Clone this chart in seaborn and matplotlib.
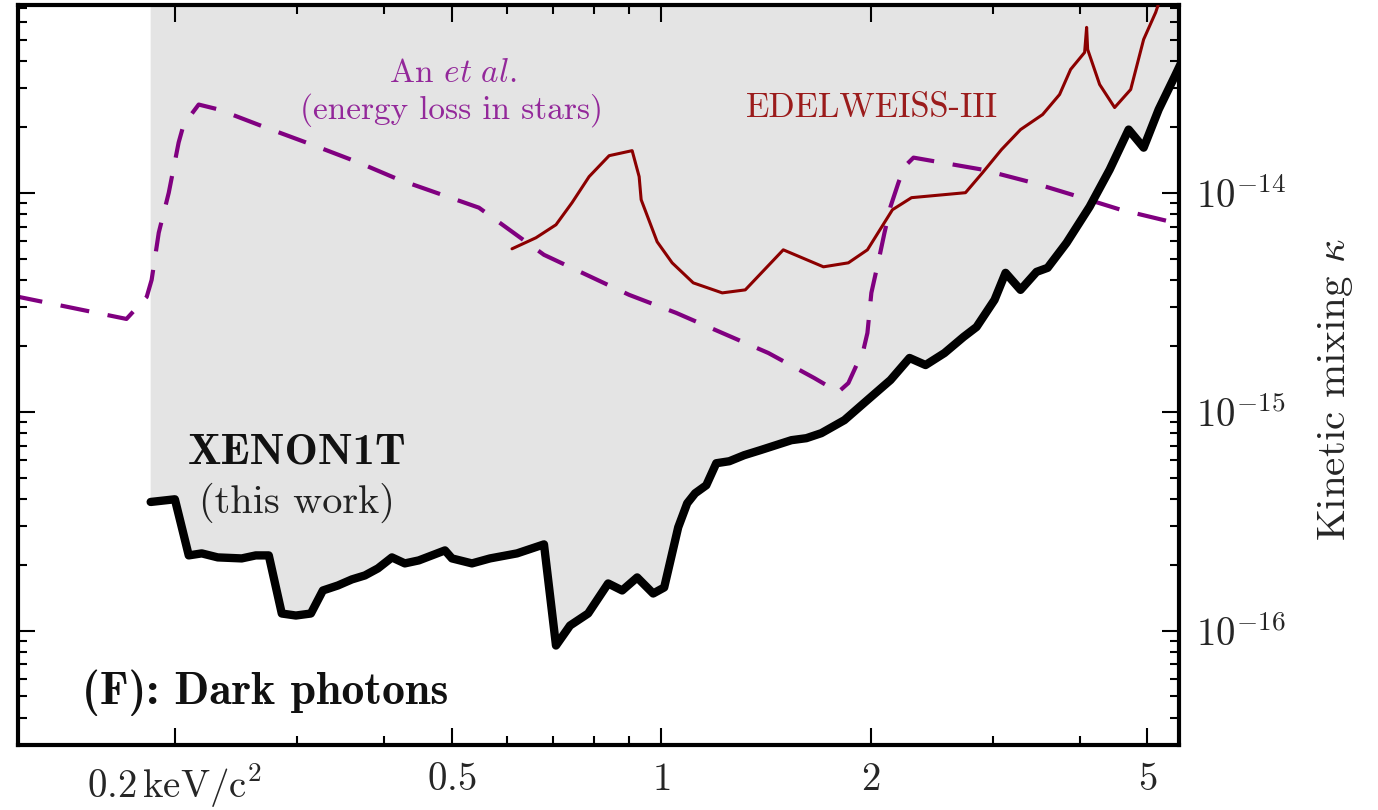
import os
import numpy as np
import pandas as pd
import matplotlib
matplotlib.use("Agg")
import matplotlib.pyplot as plt
from matplotlib.font_manager import FontProperties
from matplotlib.ticker import FixedLocator, LogLocator, NullFormatter
import seaborn as sns

# ---------------- data ----------------
xenon_mass = [0.1846, 0.200, 0.2094, 0.2186, 0.2305, 0.2495, 0.2614, 0.2729, 0.2849, 0.2985,
              0.3137, 0.3264, 0.3430, 0.3593, 0.3751, 0.3916, 0.4102, 0.4281, 0.4484, 0.4682,
              0.4889, 0.5004, 0.5346, 0.5675, 0.6206, 0.6785, 0.7060, 0.7396, 0.7852, 0.8390,
              0.8789, 0.9236, 0.9739, 1.010, 1.058, 1.090, 1.119, 1.161, 1.200, 1.253,
              1.316, 1.388, 1.539, 1.617, 1.699, 1.834, 1.979, 2.136, 2.275, 2.399,
              2.554, 2.720, 2.840, 3.014, 3.126, 3.285, 3.464, 3.593, 3.826, 4.129,
              4.412, 4.698, 4.937, 5.189, 5.472, 5.656]
xenon_kappa = [3.866e-16, 3.977e-16, 2.204e-16, 2.251e-16, 2.158e-16, 2.135e-16, 2.204e-16, 2.204e-16, 1.196e-16, 1.171e-16,
               1.196e-16, 1.524e-16, 1.606e-16, 1.712e-16, 1.785e-16, 1.922e-16, 2.158e-16, 2.026e-16, 2.091e-16, 2.204e-16,
               2.323e-16, 2.135e-16, 2.026e-16, 2.135e-16, 2.251e-16, 2.475e-16, 8.54e-17, 1.054e-16, 1.196e-16, 1.641e-16,
               1.524e-16, 1.748e-16, 1.476e-16, 1.573e-16, 2.961e-16, 3.813e-16, 4.236e-16, 4.609e-16, 5.810e-16, 5.934e-16,
               6.322e-16, 6.664e-16, 7.405e-16, 7.562e-16, 7.971e-16, 9.144e-16, 1.129e-15, 1.394e-15, 1.758e-15, 1.632e-15,
               1.852e-15, 2.193e-15, 2.436e-15, 3.238e-15, 4.304e-15, 3.598e-15, 4.349e-15, 4.537e-15, 5.904e-15, 8.628e-15,
               1.274e-14, 1.942e-14, 1.606e-14, 2.399e-14, 3.396e-14, 4.236e-14]

edel_mass = [0.6104, 0.6607, 0.7060, 0.7445, 0.7878, 0.8418, 0.9084, 0.9297, 0.9359, 0.9868,
             1.037, 1.112, 1.224, 1.321, 1.498, 1.711, 1.858, 1.979, 2.150, 2.290,
             2.738, 2.897, 3.084, 3.285, 3.534, 3.738, 3.877, 4.061, 4.088, 4.102,
             4.268, 4.485, 4.730, 4.937, 5.138, 5.241]
edel_kappa = [5.542e-15, 6.224e-15, 7.137e-15, 9.00e-15, 1.184e-14, 1.476e-14, 1.556e-14, 1.184e-14, 9.29e-15, 5.966e-15,
              4.782e-15, 3.874e-15, 3.486e-15, 3.598e-15, 5.483e-15, 4.585e-15, 4.782e-15, 5.483e-15, 8.36e-15, 9.49e-15,
              1.0e-14, 1.234e-14, 1.573e-14, 1.942e-14, 2.275e-14, 2.809e-14, 3.656e-14, 4.372e-14, 5.690e-14, 4.512e-14,
              3.121e-14, 2.449e-14, 2.961e-14, 5.014e-14, 6.664e-14, 8.06e-14]

stars_mass = [0.1173, 0.1704, 0.1822, 0.1852, 0.1896, 0.1960, 0.2025, 0.2059, 0.2164, 0.2312,
              0.2702, 0.3147, 0.3677, 0.4198, 0.5471, 0.6785, 0.8995, 1.051, 1.224, 1.426,
              1.660, 1.797, 1.858, 1.953, 1.979, 2.005, 2.059, 2.094, 2.136, 2.193,
              2.237, 2.305, 2.487, 2.897, 3.419, 3.981, 4.575, 5.472, 5.656]
stars_kappa = [3.378e-15, 2.650e-15, 3.342e-15, 3.998e-15, 6.560e-15, 1.0e-14, 1.694e-14, 2.048e-14, 2.527e-14, 2.399e-14,
               1.984e-14, 1.658e-14, 1.372e-14, 1.147e-14, 8.54e-15, 5.202e-15, 3.414e-15, 2.824e-15, 2.287e-15, 1.852e-15,
               1.423e-15, 1.228e-15, 1.350e-15, 1.912e-15, 2.287e-15, 3.486e-15, 5.094e-15, 6.560e-15, 8.628e-15, 1.111e-14,
               1.315e-14, 1.446e-14, 1.386e-14, 1.274e-14, 1.111e-14, 9.59e-15, 8.36e-15, 7.29e-15, 7.06e-15]

x_major = [0.2, 0.5, 1, 2, 5]
x_labels = [r'$0.2\,\mathrm{keV/c^2}$', r'$0.5$', r'$1$', r'$2$', r'$5$']
y_major = [1e-16, 1e-15, 1e-14]
y_labels = [r'$10^{-16}$', r'$10^{-15}$', r'$10^{-14}$']

# ---------------- style ----------------
sns.set_style('white')
plt.rcParams['font.family'] = ['cmr10', 'DejaVu Sans']
plt.rcParams['mathtext.fontset'] = 'cm'
plt.rcParams['axes.formatter.use_mathtext'] = True
plt.rcParams['axes.unicode_minus'] = False

bold_fp = FontProperties(fname=os.path.join(matplotlib.get_data_path(), 'fonts', 'ttf', 'cmb10.ttf'))

fig = plt.figure(figsize=(13.78, 8.10), dpi=100)
ax = fig.add_axes([18/1378, 1-745/810, (1179-18)/1378, (745-5)/810])

ymin, ymax = 3.0e-17, 7.2e-14
ax.set_xscale('log')
ax.set_yscale('log')
ax.set_xlim(0.119, 5.55)
ax.set_ylim(ymin, ymax)

df_x = pd.DataFrame({'mass': xenon_mass, 'kappa': xenon_kappa})
df_e = pd.DataFrame({'mass': edel_mass, 'kappa': edel_kappa})
df_s = pd.DataFrame({'mass': stars_mass, 'kappa': stars_kappa})

ax.fill_between(df_x['mass'], df_x['kappa'], 1e-12, color='#e4e4e4', lw=0, zorder=0)

sns.lineplot(data=df_s, x='mass', y='kappa', ax=ax, sort=False, estimator=None,
             color='#800080', lw=3.0, dashes=False, zorder=2)
ax.lines[-1].set_dashes((7, 4.5))
sns.lineplot(data=df_e, x='mass', y='kappa', ax=ax, sort=False, estimator=None,
             color='#8b0000', lw=2.2, zorder=3)
sns.lineplot(data=df_x, x='mass', y='kappa', ax=ax, sort=False, estimator=None,
             color='black', lw=6.0, zorder=4)

# ticks
ax.xaxis.set_major_locator(FixedLocator(x_major))
ax.set_xticklabels(x_labels)
ax.xaxis.set_minor_locator(LogLocator(base=10, subs=np.arange(2, 10)))
ax.xaxis.set_minor_formatter(NullFormatter())
ax.yaxis.set_major_locator(FixedLocator(y_major))
ax.set_yticklabels(y_labels)
ax.yaxis.set_minor_locator(LogLocator(base=10, subs=np.arange(2, 10), numticks=20))
ax.yaxis.set_minor_formatter(NullFormatter())

ax.tick_params(which='both', direction='in', top=True, bottom=True, left=True, right=True,
               labelleft=False, labelright=True, labelsize=28, width=1.5, color='black')
ax.tick_params(which='major', length=12)
ax.tick_params(which='minor', length=6.5)
ax.tick_params(axis='x', which='major', pad=12)
ax.tick_params(axis='y', which='major', pad=12)

for s in ax.spines.values():
    s.set_linewidth(3)
    s.set_color('black')
    s.set_visible(True)

ax.set_xlabel('')
ax.yaxis.set_label_position('right')
ax.set_ylabel(r'Kinetic mixing $\kappa$', fontsize=29.5)
ax.yaxis.set_label_coords(1.118, 0.48)

# annotations
ax.text(0.3747, 0.908, r'An $\mathit{et\ al.}$', transform=ax.transAxes, ha='center', va='center',
        fontsize=24, color='#93289a')
ax.text(0.3738, 0.858, '(energy loss in stars)', transform=ax.transAxes, ha='center', va='center',
        fontsize=24, color='#93289a')
ax.text(0.7356, 0.861, 'EDELWEISS-III', transform=ax.transAxes, ha='center', va='center',
        fontsize=24.8, color='#9b1c1c')
ax.text(0.2403, 0.3946, 'XENON1T', transform=ax.transAxes, ha='center', va='center',
        fontproperties=bold_fp, fontsize=32, color='#111111')
ax.text(0.2403, 0.327, '(this work)', transform=ax.transAxes, ha='center', va='center',
        fontsize=29, color='#222222')
ax.text(0.0551, 0.0703, '(F): Dark photons', transform=ax.transAxes, ha='left', va='center',
        fontproperties=bold_fp, fontsize=33, color='#111111')

fig.savefig('out.png', dpi=100)
